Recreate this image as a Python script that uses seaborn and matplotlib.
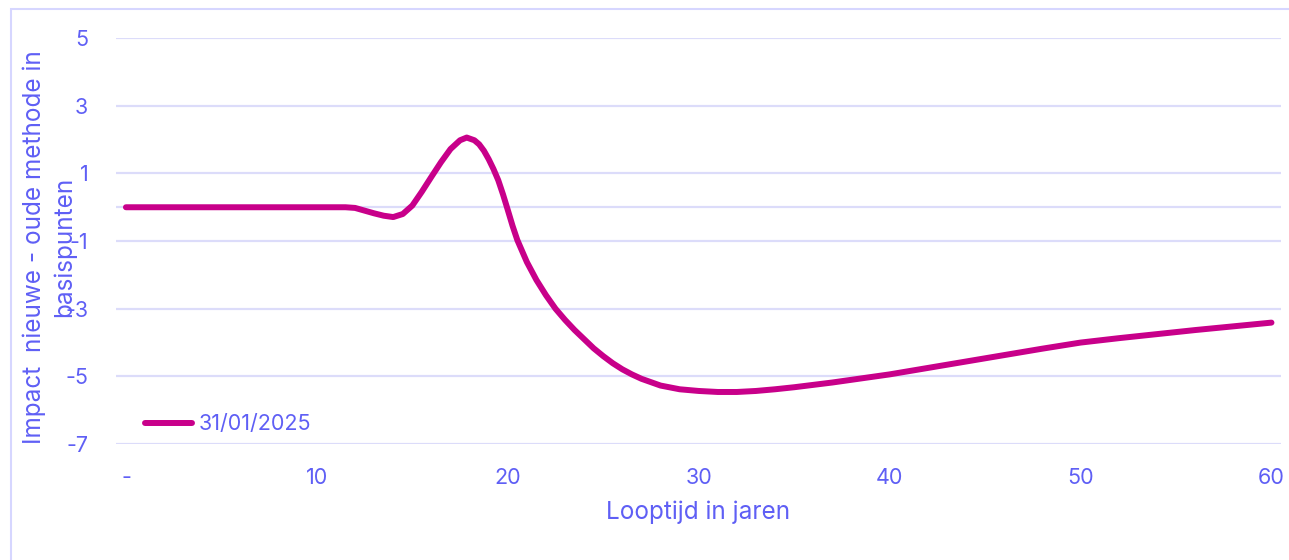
import pandas as pd
import seaborn as sns
import matplotlib.pyplot as plt
from matplotlib.patches import Rectangle

# waarden
jaren = [0, 1, 2, 3, 4, 5, 6, 7, 8, 9, 10, 11, 11.5, 12, 12.5, 13, 13.5, 14, 14.5,
         15, 15.5, 16, 16.5, 17, 17.5, 17.85, 18.25, 18.5, 18.75, 19, 19.25, 19.5, 19.75,
         20, 20.25, 20.5, 21, 21.5, 22, 22.5, 23, 23.5, 24, 24.5, 25, 25.5, 26, 26.5, 27, 28, 29,
         30, 31, 32, 33, 34, 35, 36, 37, 38, 39, 40,
         42, 44, 46, 48, 50, 52, 54, 56, 58, 60]
impact = [0, 0, 0, 0, 0, 0, 0, 0, 0, 0, 0, 0, 0, -0.02, -0.1, -0.18, -0.25, -0.29, -0.2,
          0.05, 0.46, 0.9, 1.33, 1.72, 1.98, 2.06, 1.98, 1.86, 1.67, 1.42, 1.13, 0.8, 0.38,
          -0.08, -0.55, -0.97, -1.62, -2.15, -2.6, -3.0, -3.33, -3.63, -3.9, -4.17, -4.4, -4.61, -4.79, -4.94, -5.07, -5.27, -5.38,
          -5.43, -5.46, -5.46, -5.43, -5.38, -5.32, -5.25, -5.18, -5.1, -5.02, -4.94,
          -4.75, -4.56, -4.37, -4.18, -4.0, -3.87, -3.75, -3.63, -3.52, -3.41]
reeks = "31/01/2025"

y_ticks = [5, 3, 1, -1, -3, -5, -7]
x_ticks = [0, 10, 20, 30, 40, 50, 60]
x_labels = ["-", "10", "20", "30", "40", "50", "60"]

tekst = "#5f5ff5"
lijn = "#c8008a"
raster = "#dcdcfa"

df = pd.DataFrame({"jaar": jaren, "impact": impact})

sns.set_style("white")
plt.rcParams["font.family"] = ["Inter", "DejaVu Sans"]

fig = plt.figure(figsize=(12.89, 5.6), dpi=100)
ax = fig.add_axes([0.090, 0.207, 0.9038, 0.725])

for y in y_ticks + [0]:
    ax.axhline(y, color=raster, linewidth=1.6, zorder=0)

sns.lineplot(data=df, x="jaar", y="impact", ax=ax, color=lijn, linewidth=4.3,
             label=reeks, solid_capstyle="round", solid_joinstyle="round")

ax.set_xlim(-0.52, 60.5)
ax.set_ylim(-7, 5)
ax.set_yticks(y_ticks)
ax.set_yticklabels([str(v) for v in y_ticks])
ax.set_xticks(x_ticks)
ax.set_xticklabels(x_labels)
ax.tick_params(colors=tekst, labelsize=15.5, length=0)
ax.tick_params(axis="y", pad=20)
ax.tick_params(axis="x", pad=17)
for s in ax.spines.values():
    s.set_visible(False)

ax.set_xlabel("Looptijd in jaren", color=tekst, fontsize=17.5, labelpad=9)
ax.set_ylabel("")
fig.text(49 / 1289, 1 - 247 / 560, "Impact  nieuwe - oude methode in\nbasispunten",
         rotation=90, ha="center", va="center", multialignment="center",
         color=tekst, fontsize=17.5, linespacing=1.35)

leg = ax.legend(loc="center left", bbox_to_anchor=(0.0249, 0.049), frameon=False,
                borderpad=0, borderaxespad=0, handlelength=2.2, handletextpad=0.3,
                fontsize=15.5)
for t in leg.get_texts():
    t.set_color(tekst)

fig.patches.append(Rectangle((11 / 1289, -0.1), 2, 1.1 - 9 / 560, transform=fig.transFigure,
                             fill=False, edgecolor="#d6d6ff", linewidth=1.5))

fig.savefig("out.png", dpi=100)
